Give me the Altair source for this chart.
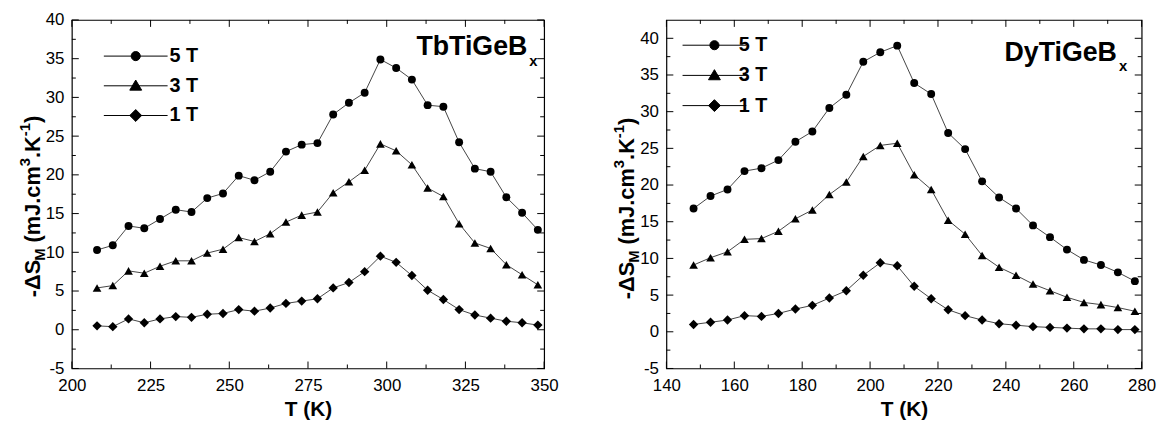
import altair as alt
import pandas as pd

FONT = "Liberation Sans"
SERIES = ["5 T", "3 T", "1 T"]

# ---- TbTiGeBx ----
tb_T = [208, 213, 218, 223, 228, 233, 238, 243, 248, 253, 258, 263, 268, 273, 278,
        283, 288, 293, 298, 303, 308, 313, 318, 323, 328, 333, 338, 343, 348]
tb_5T = [10.3, 10.9, 13.4, 13.1, 14.3, 15.5, 15.2, 17.0, 17.6, 19.9, 19.3, 20.4, 23.0, 23.9, 24.1,
         27.8, 29.3, 30.6, 34.9, 33.8, 32.3, 29.0, 28.8, 24.2, 20.8, 20.4, 17.1, 15.1, 12.9]
tb_3T = [5.4, 5.7, 7.6, 7.3, 8.2, 8.9, 8.9, 9.9, 10.4, 11.9, 11.4, 12.4, 13.9, 14.8, 15.2,
         17.7, 19.1, 20.6, 24.0, 23.1, 21.3, 18.3, 17.2, 13.7, 11.2, 10.5, 8.4, 7.1, 5.8]
tb_1T = [0.5, 0.4, 1.4, 0.9, 1.4, 1.7, 1.6, 2.0, 2.1, 2.6, 2.4, 2.8, 3.4, 3.7, 4.0,
         5.4, 6.1, 7.5, 9.5, 8.7, 7.0, 5.1, 3.9, 2.6, 1.9, 1.5, 1.1, 0.9, 0.6]

# ---- DyTiGeBx ----
dy_T = [148, 153, 158, 163, 168, 173, 178, 183, 188, 193, 198, 203, 208, 213,
        218, 223, 228, 233, 238, 243, 248, 253, 258, 263, 268, 273, 278]
dy_5T = [16.8, 18.5, 19.4, 21.9, 22.3, 23.4, 25.9, 27.3, 30.5, 32.3, 36.8, 38.1, 39.0, 33.9,
         32.4, 27.1, 24.9, 20.5, 18.3, 16.8, 14.5, 12.9, 11.2, 9.8, 9.1, 8.1, 6.9]
dy_3T = [9.1, 10.1, 10.9, 12.6, 12.7, 13.7, 15.4, 16.6, 18.7, 20.4, 23.9, 25.4, 25.7, 21.4,
         19.4, 15.2, 13.3, 10.4, 8.8, 7.7, 6.5, 5.6, 4.7, 4.0, 3.7, 3.3, 2.8]
dy_1T = [1.0, 1.3, 1.6, 2.2, 2.1, 2.5, 3.1, 3.6, 4.6, 5.6, 7.7, 9.4, 9.0, 6.2,
         4.5, 3.0, 2.2, 1.6, 1.1, 0.9, 0.7, 0.6, 0.5, 0.4, 0.4, 0.3, 0.3]

tb_xlabels = [200, 225, 250, 275, 300, 325, 350]
tb_xminor = [212.5, 237.5, 262.5, 287.5, 312.5, 337.5]
dy_xlabels = [140, 160, 180, 200, 220, 240, 260, 280]
dy_xminor = [150, 170, 190, 210, 230, 250, 270]
ylabels = [-5, 0, 5, 10, 15, 20, 25, 30, 35, 40]
yminor = [-2.5, 2.5, 7.5, 12.5, 17.5, 22.5, 27.5, 32.5, 37.5]

SHAPES = ["circle", "triangle-up", "diamond"]
SIZES = [64, 90, 100]
LEG_PATHS = [
    "M-3.22,0L3.22,0M0.46,0A0.46,0.46,0,1,1,-0.46,0A0.46,0.46,0,1,1,0.46,0Z",
    "M-3.22,0L3.22,0M0,-0.58L0.6,0.44L-0.6,0.44Z",
    "M-3.22,0L3.22,0M0,-0.6L0.6,0L0,0.6L-0.6,0Z",
]

# Arial-bold advance widths (per 1000 em) used to lay out the rich y-axis title
ADV = {'-': 333, '\u0394': 667, 'S': 667, 'M': 833, ' ': 278, '(': 333, 'm': 889, 'J': 556,
       '.': 278, 'c': 556, 'K': 722, '3': 556, '1': 556, ')': 333}
MAJOR, MINOR = 7, 4


def long_df(T, s5, s3, s1):
    rows = []
    for name, vals in zip(SERIES, [s5, s3, s1]):
        for t, v in zip(T, vals):
            rows.append({"T": t, "v": v, "series": name})
    return pd.DataFrame(rows)


def one():
    return alt.Data(values=[{"a": 1}])


def text_layer(txt, x, y, size, align="left", angle=0):
    return alt.Chart(one()).mark_text(
        text=txt, align=align, baseline="alphabetic", angle=angle, font=FONT,
        fontSize=size, fontWeight="bold", color="black"
    ).encode(x=alt.value(x), y=alt.value(y))


def ytitle_layers(base_x, y0):
    pieces = [("-\u0394S", 22, 0), ("M", 15, 5), (" ", 22, 0), ("(mJ.cm", 22, 0),
              ("3", 15, -10), (".K", 22, 0), ("-1", 15, -10), (")", 22, 0)]
    out = []
    y = y0
    for txt, fs, sh in pieces:
        if txt.strip():
            out.append(text_layer(txt, base_x + sh, y, fs, angle=270))
        y -= sum(ADV[c] for c in txt) / 1000 * fs
    return out


def x_ticks(values, xs, y1, y2):
    return alt.Chart(pd.DataFrame({"t": values})).mark_rule(color="black", strokeWidth=1).encode(
        x=alt.X("t:Q", scale=xs, axis=None), y=alt.value(y1), y2=alt.value(y2))


def y_ticks(values, ys, x1, x2):
    return alt.Chart(pd.DataFrame({"t": values})).mark_rule(color="black", strokeWidth=1).encode(
        y=alt.Y("t:Q", scale=ys, axis=None), x=alt.value(x1), x2=alt.value(x2))


def panel(df, xdom, ydom, xlabels, xminor, W, H, name, name_x, name_y,
          leg_x, leg_y, leg_off, leg_pad, title_y0):
    xs = alt.Scale(domain=xdom, nice=False, zero=False)
    ys = alt.Scale(domain=ydom, nice=False, zero=False)
    base = alt.Chart(df)

    xlab = alt.Axis(orient="bottom", values=xlabels, ticks=False, domain=False, grid=False,
                    labelFont=FONT, labelFontSize=17, labelColor="black", labelPadding=9,
                    labelFlush=False, labelExpr="'' + datum.value", title="T (K)",
                    titleFont=FONT, titleFontSize=21, titleFontWeight="bold",
                    titleColor="black", titlePadding=6)
    ylab = alt.Axis(orient="left", values=ylabels, ticks=False, domain=False, grid=False,
                    labelFont=FONT, labelFontSize=17, labelColor="black", labelPadding=8,
                    labelFlush=False, labelExpr="'' + datum.value", title=None)

    lines = base.mark_line(color="#444444", strokeWidth=1).encode(
        x=alt.X("T:Q", scale=xs, axis=xlab),
        y=alt.Y("v:Q", scale=ys, axis=ylab),
        detail="series:N",
    )
    pts = base.mark_point(filled=True, color="black", opacity=1).encode(
        x=alt.X("T:Q", scale=xs, axis=None),
        y=alt.Y("v:Q", scale=ys, axis=None),
        shape=alt.Shape("series:N", scale=alt.Scale(domain=SERIES, range=SHAPES), legend=None),
        size=alt.Size("series:N", scale=alt.Scale(domain=SERIES, range=SIZES), legend=None),
    )
    leg = base.transform_filter("false").mark_point(
        filled=False, fill="black", stroke="black", strokeWidth=1, opacity=1
    ).encode(
        x=alt.X("T:Q", scale=xs, axis=None),
        y=alt.Y("v:Q", scale=ys, axis=None),
        shape=alt.Shape(
            "series:N", scale=alt.Scale(domain=SERIES, range=LEG_PATHS),
            legend=alt.Legend(
                orient="none", legendX=leg_x, legendY=leg_y, title=None, padding=0,
                symbolSize=400, symbolStrokeWidth=1, symbolOpacity=1, rowPadding=leg_pad,
                labelOffset=leg_off, labelFont=FONT, labelFontSize=20,
                labelFontWeight="bold", labelColor="black",
            ),
        ),
    )
    ticks = [
        x_ticks(xlabels, xs, H, H - MAJOR), x_ticks(xlabels, xs, 0, MAJOR),
        x_ticks(xminor, xs, H, H - MINOR), x_ticks(xminor, xs, 0, MINOR),
        y_ticks(ylabels, ys, 0, MAJOR), y_ticks(ylabels, ys, W, W - MAJOR),
        y_ticks(yminor, ys, 0, MINOR), y_ticks(yminor, ys, W, W - MINOR),
    ]
    texts = [text_layer(name, name_x, name_y, 27, align="right"),
             text_layer("x", name_x + 2, name_y + 11, 15)]
    texts += ytitle_layers(-32.5, title_y0)

    return alt.layer(lines, pts, leg, *ticks, *texts).resolve_axis(
        x="independent", y="independent"
    ).resolve_scale(
        shape="independent", size="independent"
    ).properties(width=W, height=H)


left = panel(long_df(tb_T, tb_5T, tb_3T, tb_1T), [200, 350], [-5, 40], tb_xlabels, tb_xminor,
             477, 352, "TbTiGeB", 460, 35, 54, 26, 23.5, 9, 280)
right = panel(long_df(dy_T, dy_5T, dy_3T, dy_1T), [140, 280], [-5, 42.5], dy_xlabels, dy_xminor,
              480, 352, "DyTiGeB", 455, 41, 38, 15, 14, 9.5, 282)

chart = alt.hconcat(left, right, spacing=52.5).properties(
    padding={"left": 8.5, "top": 0, "right": 0, "bottom": 0}
).configure_view(stroke="black", strokeWidth=1.2)

chart.save("out.html", embed_options={"renderer": "svg", "actions": False})
